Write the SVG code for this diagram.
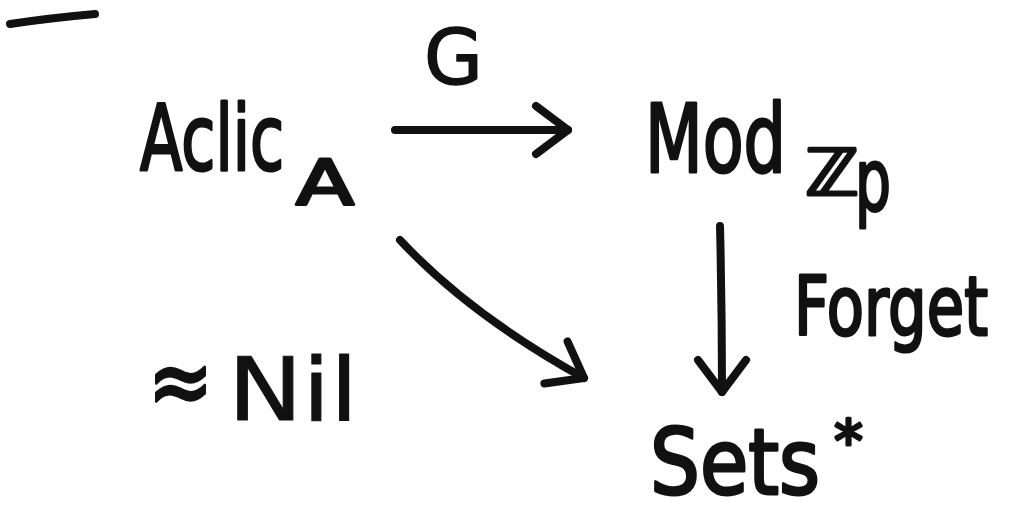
<svg xmlns="http://www.w3.org/2000/svg" width="1013" height="514" viewBox="0 0 1013 514">
<style>
.t{font-family:"DejaVu Sans","Liberation Sans",sans-serif;fill:#111;stroke:#111;stroke-width:3;stroke-linejoin:round}
.c{fill:none;stroke:#111;stroke-width:8;stroke-linecap:round;stroke-linejoin:round}
</style>
<defs>
<marker id="ah" markerUnits="userSpaceOnUse" markerWidth="60" markerHeight="60" viewBox="-40 -30 50 60" refX="0" refY="0" orient="auto">
<path d="M-32,-24 L0,0 L-32,24" fill="none" stroke="#111" stroke-width="8" stroke-linecap="round" stroke-linejoin="round"/>
</marker>
</defs>
<rect width="1013" height="514" fill="#fff"/>
<path class="c" d="M10,24 Q50,18 95,14"/>
<g id="aclic">
<text class="t" x="140" y="170" font-size="90" textLength="144" lengthAdjust="spacingAndGlyphs">Aclic</text>
<text class="t" x="296" y="205" font-size="62" textLength="58" lengthAdjust="spacingAndGlyphs">A</text>
</g>
<g id="mod">
<text class="t" x="645" y="172" font-size="95" textLength="141" lengthAdjust="spacingAndGlyphs">Mod</text>
<text class="t" x="805" y="195" font-size="64" textLength="54" lengthAdjust="spacingAndGlyphs">ℤ</text>
<text class="t" x="855" y="210" font-size="85" textLength="36" lengthAdjust="spacingAndGlyphs">p</text>
</g>
<g id="sets">
<text class="t" x="650" y="494" font-size="90" textLength="170" lengthAdjust="spacingAndGlyphs">Sets</text>
<text class="t" x="834" y="462" font-size="58">*</text>
</g>
<g id="nil">
<text class="t" x="148" y="414" font-size="95" textLength="65" lengthAdjust="spacingAndGlyphs">≈</text>
<text class="t" x="228" y="420" font-size="88" textLength="130" lengthAdjust="spacingAndGlyphs" style="stroke-width:1">Nil</text>
</g>
<g id="connectors">
<path class="c" d="M395,130 L568,130" marker-end="url(#ah)"/>
<text class="t" x="424" y="84" font-size="76" style="stroke-width:1.5">G</text>
<path class="c" d="M720,226 Q722,310 722,392" marker-end="url(#ah)"/>
<text class="t" x="794" y="335" font-size="82" textLength="194" lengthAdjust="spacingAndGlyphs">Forget</text>
<path class="c" d="M400,240 Q470,315 584,378" marker-end="url(#ah)"/>
</g>
</svg>
